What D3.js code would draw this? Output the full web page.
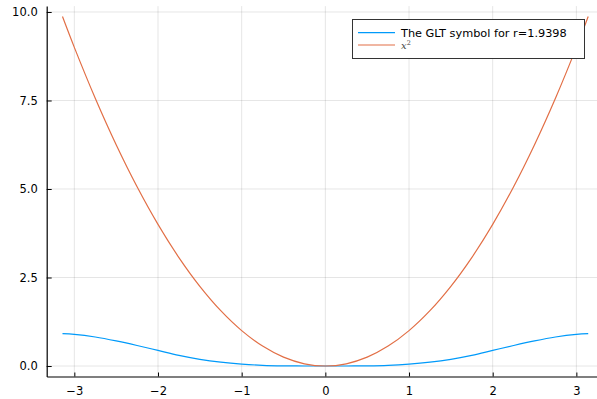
<!DOCTYPE html>
<html>
<head>
<meta charset="utf-8">
<script src="https://cdn.jsdelivr.net/npm/d3@7"></script>
<style>
  body { margin: 0; background: #fff; }
  svg { display: block; font-family: "DejaVu Sans", sans-serif; }
</style>
</head>
<body>
<svg id="chart" width="597" height="399"></svg>
<script>
// sample points
const xs = [-3.1416, -3, -2.75, -2.5, -2.25, -2, -1.75, -1.5, -1.25, -1, -0.75, -0.5, -0.25,
            0, 0.25, 0.5, 0.75, 1, 1.25, 1.5, 1.75, 2, 2.25, 2.5, 2.75, 3, 3.1416];
const gltVals = [0.915, 0.895, 0.82, 0.71, 0.58, 0.44, 0.30, 0.19, 0.11, 0.055, 0.02, 0.005, 0.001,
                 0, 0.001, 0.005, 0.02, 0.055, 0.11, 0.19, 0.30, 0.44, 0.58, 0.71, 0.82, 0.895, 0.915];
const sqVals = [9.87, 9, 7.5625, 6.25, 5.0625, 4, 3.0625, 2.25, 1.5625, 1, 0.5625, 0.25, 0.0625,
                0, 0.0625, 0.25, 0.5625, 1, 1.5625, 2.25, 3.0625, 4, 5.0625, 6.25, 7.5625, 9, 9.87];
const xTicks = [-3, -2, -1, 0, 1, 2, 3];
const yTicks = [0, 2.5, 5, 7.5, 10];
const seriesNames = ["The GLT symbol for r=1.9398", "x2"];
const colors = ["#009AFA", "#E26F46"];

const svg = d3.select("#chart");
const pLeft = 46.7, pRight = 604, pTop = 6.1, pBottom = 376.5;

const x = d3.scaleLinear().domain([-3.3302, 3.3302]).range([pLeft, pRight]);
const y = d3.scaleLinear().domain([-0.296, 10.166]).range([pBottom, pTop]);

svg.append("clipPath").attr("id", "clip")
    .append("rect")
    .attr("x", pLeft).attr("y", pTop)
    .attr("width", pRight - pLeft).attr("height", pBottom - pTop);

// grid
svg.append("g").selectAll("line").data(xTicks).enter().append("line")
    .attr("x1", d => x(d)).attr("x2", d => x(d))
    .attr("y1", pTop).attr("y2", pBottom)
    .attr("stroke", "#000").attr("stroke-opacity", 0.1).attr("stroke-width", 1);
svg.append("g").selectAll("line").data(yTicks).enter().append("line")
    .attr("x1", pLeft).attr("x2", pRight)
    .attr("y1", d => y(d)).attr("y2", d => y(d))
    .attr("stroke", "#000").attr("stroke-opacity", 0.1).attr("stroke-width", 1);

// axes
const xAxis = d3.axisBottom(x).tickValues(xTicks).tickSizeInner(-4).tickSizeOuter(0)
    .tickPadding(10).tickFormat(d => d < 0 ? "\u2212" + Math.abs(d) : d);
const gx = svg.append("g").attr("transform", `translate(0,${pBottom})`).call(xAxis);
const yAxis = d3.axisLeft(y).tickValues(yTicks).tickSizeInner(-5).tickSizeOuter(0)
    .tickPadding(9).tickFormat(d3.format(".1f"));
const gy = svg.append("g").attr("transform", `translate(${pLeft},0)`).call(yAxis);

[gx, gy].forEach(g => {
    g.select(".domain").attr("stroke", "#000").attr("stroke-width", 1.2);
    g.selectAll(".tick line").attr("stroke", "#000").attr("stroke-width", 1);
    g.selectAll("text").attr("font-family", "DejaVu Sans, sans-serif")
        .attr("font-size", "11.5px").attr("fill", "#000");
});

// curves
const line = d3.line()
    .x((d, i) => x(xs[i]))
    .y(d => y(d))
    .curve(d3.curveCatmullRom);

const plot = svg.append("g").attr("clip-path", "url(#clip)");
[gltVals, sqVals].forEach((vals, k) => {
    plot.append("path")
        .attr("d", line(vals))
        .attr("fill", "none")
        .attr("stroke", colors[k])
        .attr("stroke-width", 1.2);
});

// legend
const lg = svg.append("g");
lg.append("rect")
    .attr("x", 352.5).attr("y", 19.5).attr("width", 232).attr("height", 39)
    .attr("fill", "#fff").attr("stroke", "#333").attr("stroke-width", 1);
const rows = [32.7, 45];
rows.forEach((ry, k) => {
    lg.append("line")
        .attr("x1", 358).attr("x2", 395).attr("y1", ry).attr("y2", ry)
        .attr("stroke", colors[k]).attr("stroke-width", 1.2);
});
lg.append("text")
    .attr("x", 401).attr("y", rows[0]).attr("dy", "0.35em")
    .attr("font-size", "11.3px").attr("fill", "#000")
    .text(seriesNames[0]);
const t2 = lg.append("text")
    .attr("x", 401).attr("y", rows[1] + 4)
    .attr("font-family", "DejaVu Serif, serif")
    .attr("font-style", "italic").attr("font-size", "10px").attr("fill", "#444");
t2.append("tspan").text(seriesNames[1][0]);
t2.append("tspan").attr("dy", -4).attr("font-size", "6.5px").attr("font-style", "normal")
    .text(seriesNames[1][1]);
</script>
</body>
</html>
